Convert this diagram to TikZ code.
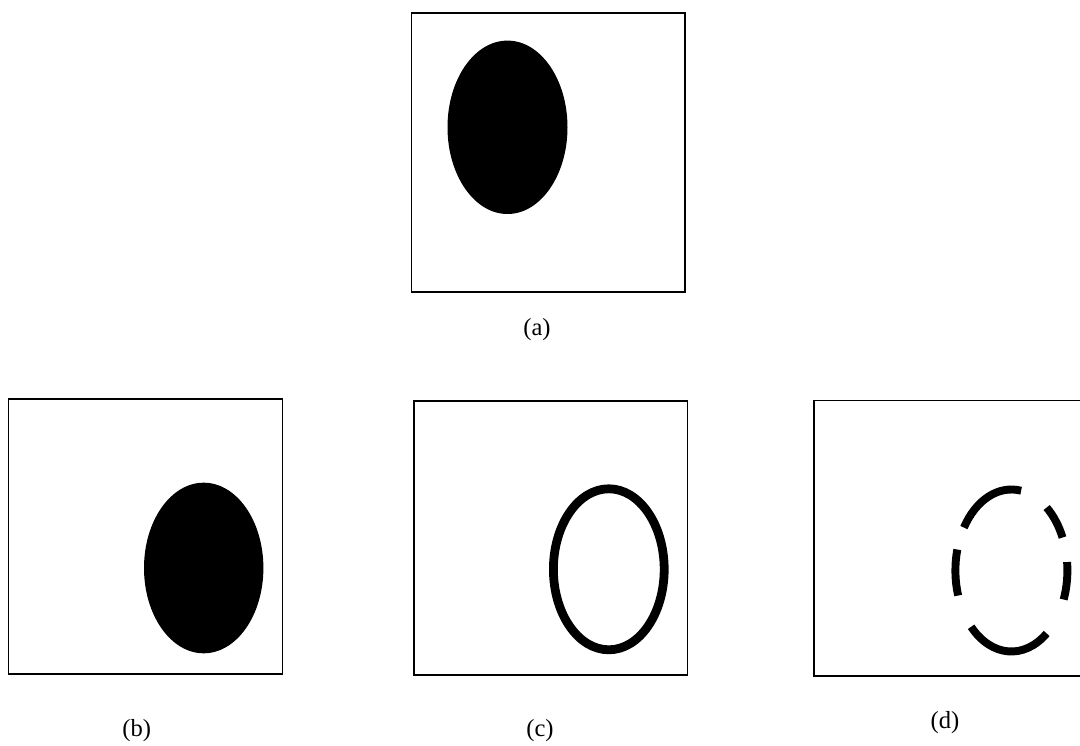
\documentclass[tikz,border=0pt]{standalone}
\usepackage{fontspec}
\setmainfont{Liberation Serif}
\usepackage{tikz}
\usetikzlibrary{calc,positioning}

\begin{document}
\begin{tikzpicture}[x=0.02cm,y=0.02cm,
  panel/.style={line width=0.7pt},
  blob/.style={fill=black},
  ring/.style={line width=5pt},
  dashring/.style={line width=4.5pt},
  caption/.style={font=\fontsize{14}{16}\selectfont}]
  \useasboundingbox (0,0) rectangle (1080,745);
  % (a) original image
  \draw[panel] (411.7,453) rectangle (685,732);
  \fill[blob] (507.5,617.7) ellipse [x radius=60, y radius=86.7];
  \node[caption] (lbla) at (537,415) {(a)};
  % (b) shifted region
  \draw[panel] (8.3,71) rectangle (282.7,346);
  \fill[blob] (203.7,177) ellipse [x radius=59.7, y radius=85.3];
  \node[caption] (lblb) at (136.7,14) {(b)};
  % (c) boundary
  \draw[panel] (414,70) rectangle (687.3,344);
  \draw[ring] (608.8,175.7) ellipse [x radius=55.4, y radius=80.5];
  \node[caption] (lblc) at (540,14) {(c)};
  % (d) broken boundary, box runs off the right edge
  \draw[panel] (1080,344.3) -- (814,344.3) -- (814,69) -- (1080,69);
  \coordinate (dc) at (1011.4,174.5);
  \foreach \a/\b in {80/148, 24/51, -21/6, 165/198, 224/309}
    \draw[dashring] ($(dc)+(\a:56 and 81)$) arc [start angle=\a, end angle=\b, x radius=56, y radius=81];
  \node[caption] (lbld) at (945,22) {(d)};
\end{tikzpicture}
\end{document}
